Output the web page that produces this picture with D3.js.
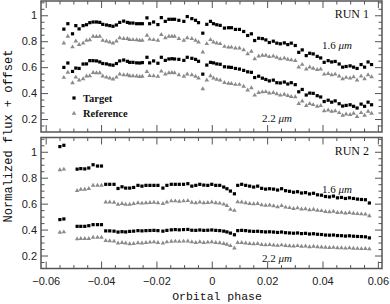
<!DOCTYPE html>
<html><head><meta charset="utf-8">
<script src="https://cdn.jsdelivr.net/npm/d3@7"></script>
<style>body{margin:0;background:#fff}svg{display:block}</style>
</head><body><svg id="c" width="390" height="304"></svg>
<script>
// ---------- DATA ----------
const xTickValues = [-0.06, -0.04, -0.02, 0, 0.02, 0.04, 0.06];
const yTickValues = [0.2, 0.4, 0.6, 0.8, 1];
const runLabels = ["RUN 1", "RUN 2"];
const legendLabels = ["Target", "Reference"];
const bandLabels = ["1.6", "2.2"];
const xTitle = "Orbital phase";
const yTitle = "Normalized flux + offset";

// RUN 1 phases
const phaseRun1 = [-0.05344,-0.05200,-0.05031,-0.04912,-0.04793,-0.04649,-0.04526,-0.04407,-0.04288,-0.04166,
-0.04047,-0.03939,-0.03805,-0.03686,-0.03568,-0.03445,-0.03326,-0.03182,-0.03049,-0.02966,
-0.02847,-0.02714,-0.02605,-0.02508,-0.02342,-0.02245,-0.02101,-0.01946,-0.01823,-0.01679,
-0.01550,-0.01441,-0.01344,-0.01189,-0.01009,-0.00886,-0.00721,-0.00587,-0.00479,-0.00324,
-0.00180,-0.00047,0.00061,0.00180,0.00303,0.00458,0.00602,0.00710,0.00854,0.00999,
0.01153,0.01297,0.01431,0.01550,0.01694,
0.01827,0.01953,0.02079,0.02223,0.02350,0.02476,0.02620,0.02746,0.02872,0.03016,
0.03142,0.03268,0.03413,0.03539,0.03665,0.03809,0.03935,0.04061,0.04205,0.04332,
0.04458,0.04602,0.04728,0.04854,0.04998,0.05124,0.05250,0.05395,0.05521,0.05647,0.05773];
const run1Target16 = [0.893,0.935,0.857,0.920,0.895,0.920,0.927,0.943,0.948,0.948,
0.945,0.930,0.925,0.920,0.915,0.925,0.945,0.955,0.945,0.940,
0.940,0.935,0.935,0.935,0.980,0.935,0.948,0.928,0.982,0.953,
0.969,0.969,0.969,0.961,0.953,0.990,0.974,0.961,0.943,0.862,
0.930,0.953,0.935,0.927,0.922,0.901,0.904,0.904,0.891,0.891,
0.875,0.844,0.857,0.805,0.823,
0.820,0.810,0.790,0.800,0.785,0.780,0.787,0.774,0.785,0.767,
0.714,0.733,0.689,0.707,0.702,0.683,0.671,0.637,0.650,0.640,
0.644,0.624,0.600,0.605,0.610,0.600,0.590,0.620,0.600,0.640,0.620];
const run1Ref16 = [0.785,0.837,0.755,0.800,0.774,0.785,0.806,0.810,0.837,0.835,
0.837,0.806,0.800,0.793,0.785,0.800,0.826,0.820,0.820,0.811,
0.811,0.810,0.806,0.806,0.845,0.815,0.811,0.806,0.850,0.826,
0.837,0.837,0.837,0.819,0.806,0.826,0.819,0.806,0.793,0.715,
0.780,0.811,0.793,0.785,0.780,0.759,0.753,0.753,0.746,0.746,
0.733,0.702,0.722,0.663,0.684,
0.690,0.690,0.680,0.685,0.675,0.663,0.670,0.660,0.655,0.650,
0.600,0.620,0.585,0.600,0.590,0.580,0.585,0.545,0.550,0.540,
0.545,0.530,0.510,0.520,0.515,0.525,0.500,0.530,0.510,0.540,0.525];
const run1Target22 = [0.598,0.632,0.567,0.593,0.590,0.624,0.625,0.650,0.650,0.648,
0.640,0.628,0.625,0.618,0.615,0.628,0.648,0.655,0.645,0.637,
0.637,0.633,0.632,0.635,0.676,0.633,0.648,0.630,0.676,0.652,
0.663,0.665,0.663,0.660,0.652,0.676,0.668,0.660,0.645,0.546,
0.616,0.637,0.633,0.625,0.622,0.603,0.600,0.598,0.590,0.585,
0.575,0.564,0.560,0.520,0.530,
0.515,0.505,0.494,0.500,0.480,0.478,0.485,0.470,0.480,0.465,
0.410,0.428,0.385,0.400,0.398,0.380,0.370,0.335,0.345,0.330,
0.340,0.318,0.300,0.305,0.310,0.298,0.285,0.315,0.298,0.330,0.310];
const run1Ref22 = [0.520,0.560,0.478,0.522,0.500,0.510,0.530,0.533,0.558,0.555,
0.556,0.530,0.522,0.515,0.508,0.522,0.546,0.540,0.540,0.533,
0.532,0.530,0.527,0.528,0.565,0.535,0.532,0.528,0.568,0.546,
0.556,0.557,0.556,0.540,0.528,0.546,0.540,0.528,0.515,0.432,
0.500,0.532,0.515,0.506,0.500,0.480,0.474,0.473,0.466,0.466,
0.452,0.422,0.440,0.383,0.403,
0.408,0.410,0.400,0.404,0.393,0.383,0.390,0.380,0.373,0.370,
0.318,0.338,0.303,0.318,0.310,0.298,0.303,0.263,0.268,0.258,
0.263,0.248,0.228,0.238,0.233,0.243,0.218,0.248,0.228,0.258,0.243];

// RUN 2 phases
const phaseRun2 = [-0.05488,-0.05344,
-0.04865,-0.04732,-0.04588,-0.04444,-0.04288,-0.04130,-0.03986,
-0.03831,-0.03686,-0.03532,-0.03387,-0.03243,-0.03110,-0.02966,-0.02822,-0.02667,-0.02523,
-0.02378,-0.02234,-0.02090,-0.01946,-0.01766,-0.01622,-0.01463,-0.01319,-0.01175,-0.01020,
-0.00865,-0.00721,-0.00577,-0.00432,-0.00288,-0.00144,0.00000,0.00144,0.00288,0.00432,
0.00548,0.00674,0.00818,0.00937,0.01081,0.01225,0.01369,0.01514,0.01658,0.01802,
0.01946,0.02090,0.02234,0.02378,0.02523,0.02667,0.02811,0.02955,0.03099,0.03243,
0.03387,0.03532,0.03676,0.03820,0.03964,0.04108,0.04252,0.04396,0.04541,0.04685,
0.04829,0.04973,0.05117,0.05261,0.05405,0.05550,0.05694];
const run2Target16 = [1.040,1.050,
0.866,0.870,0.868,0.875,0.900,0.890,0.890,
0.749,0.749,0.749,0.717,0.730,0.720,0.720,0.725,0.741,0.735,
0.741,0.741,0.741,0.741,0.720,0.741,0.749,0.749,0.749,0.749,
0.754,0.735,0.741,0.749,0.743,0.741,0.749,0.741,0.741,0.728,
0.715,0.697,0.676,0.741,0.749,0.741,0.735,0.728,0.735,0.718,
0.712,0.715,0.712,0.705,0.715,0.700,0.695,0.688,0.692,0.682,
0.685,0.675,0.680,0.668,0.665,0.655,0.652,0.658,0.645,0.648,
0.640,0.645,0.640,0.635,0.632,0.630,0.605];
const run2Ref16 = [0.860,0.865,
0.700,0.710,0.710,0.715,0.740,0.740,0.740,
0.612,0.612,0.610,0.594,0.600,0.594,0.594,0.600,0.606,0.603,
0.606,0.608,0.610,0.606,0.600,0.612,0.620,0.620,0.618,0.620,
0.622,0.610,0.605,0.612,0.606,0.608,0.612,0.606,0.603,0.595,
0.585,0.555,0.547,0.614,0.612,0.606,0.600,0.598,0.600,0.590,
0.586,0.588,0.582,0.575,0.585,0.572,0.568,0.562,0.566,0.558,
0.560,0.552,0.556,0.548,0.545,0.538,0.536,0.540,0.530,0.532,
0.526,0.530,0.525,0.522,0.520,0.518,0.505];
const run2Target22 = [0.477,0.482,
0.425,0.425,0.425,0.430,0.438,0.438,0.438,
0.390,0.390,0.388,0.381,0.384,0.382,0.386,0.388,0.392,0.390,
0.392,0.393,0.394,0.392,0.388,0.394,0.398,0.400,0.398,0.400,
0.401,0.395,0.394,0.397,0.394,0.395,0.397,0.394,0.392,0.388,
0.382,0.373,0.360,0.392,0.394,0.392,0.388,0.386,0.387,0.384,
0.382,0.383,0.381,0.378,0.381,0.376,0.374,0.372,0.374,0.369,
0.371,0.366,0.368,0.364,0.362,0.358,0.357,0.358,0.354,0.353,
0.350,0.352,0.349,0.347,0.346,0.344,0.336];
const run2Ref22 = [0.379,0.381,
0.327,0.330,0.330,0.330,0.340,0.340,0.340,
0.314,0.312,0.310,0.296,0.300,0.296,0.290,0.292,0.298,0.296,
0.300,0.302,0.304,0.300,0.296,0.304,0.309,0.310,0.308,0.310,
0.311,0.304,0.300,0.305,0.300,0.302,0.305,0.300,0.298,0.292,
0.286,0.275,0.257,0.300,0.300,0.296,0.292,0.290,0.292,0.284,
0.282,0.284,0.280,0.277,0.281,0.276,0.274,0.272,0.275,0.270,
0.272,0.267,0.270,0.266,0.265,0.262,0.260,0.262,0.259,0.258,
0.256,0.258,0.255,0.254,0.252,0.253,0.250];

// ---------- DRAW ----------
const svg = d3.select("#c");
const xLeft = 41, xRight = 382;
const frameColor = "#555";
const panels = [
  {top: 1, bottom: 132, label: runLabels[0], phase: phaseRun1,
   series: [[run1Target16,"t"],[run1Ref16,"r"],[run1Target22,"t"],[run1Ref22,"r"]],
   bands: [{t: bandLabels[0], x: 322, y: 49}, {t: bandLabels[1], x: 262, y: 122}], legend: true},
  {top: 137.5, bottom: 268.5, label: runLabels[1], phase: phaseRun2,
   series: [[run2Target16,"t"],[run2Ref16,"r"],[run2Target22,"t"],[run2Ref22,"r"]],
   bands: [{t: bandLabels[0], x: 322, y: 193}, {t: bandLabels[1], x: 262, y: 262}], legend: false}
];
const x = d3.scaleLinear().domain([-0.0617, 0.0615]).range([xLeft, xRight]);
const fmt = d3.format("~g");
const xMinor = d3.range(-0.06, 0.0601, 0.005).filter(v => !xTickValues.some(t => Math.abs(t - v) < 1e-9));
const yMinor = d3.range(0.15, 1.11, 0.05).filter(v => !yTickValues.some(t => Math.abs(t - v) < 1e-9));

const tri = d3.symbol().type(d3.symbolTriangle).size(9);

function styleAxis(g) {
  g.select(".domain").remove();
  g.selectAll(".tick line").attr("stroke", frameColor).attr("stroke-width", 1);
  g.selectAll(".tick text").attr("fill", "#222")
    .style("font-family", "'Liberation Sans', Arial, sans-serif").style("font-size", "11px");
}

panels.forEach((p, i) => {
  const y = d3.scaleLinear().domain([0.1, 1.11]).range([p.bottom, p.top]);
  const g = svg.append("g");

  const addAxes = (len, isMajor) => {
    g.append("g").attr("transform", `translate(${xLeft},0)`)
      .call(d3.axisLeft(y).tickValues(isMajor ? yTickValues : yMinor).tickSize(-len).tickPadding(4)
        .tickFormat(isMajor ? fmt : () => "")).call(styleAxis);
    g.append("g").attr("transform", `translate(${xRight},0)`)
      .call(d3.axisRight(y).tickValues(isMajor ? yTickValues : yMinor).tickSize(-len).tickFormat(() => "")).call(styleAxis);
    g.append("g").attr("transform", `translate(0,${p.top})`)
      .call(d3.axisTop(x).tickValues(isMajor ? xTickValues : xMinor).tickSize(-len).tickFormat(() => "")).call(styleAxis);
    g.append("g").attr("transform", `translate(0,${p.bottom})`)
      .call(d3.axisBottom(x).tickValues(isMajor ? xTickValues : xMinor).tickSize(-len).tickPadding(9)
        .tickFormat(isMajor && i === 1 ? fmt : () => "")).call(styleAxis);
  };
  addAxes(7, true);
  addAxes(3.5, false);

  g.append("rect").attr("x", xLeft).attr("y", p.top)
    .attr("width", xRight - xLeft).attr("height", p.bottom - p.top)
    .attr("fill", "none").attr("stroke", frameColor).attr("stroke-width", 1.5);

  p.series.forEach(([vals, kind]) => {
    const data = p.phase.map((ph, k) => [ph, vals[k]]).filter(d => d[1] != null);
    if (kind === "t") {
      g.append("g").selectAll("rect").data(data).join("rect")
        .attr("x", d => x(d[0]) - 1.6).attr("y", d => y(d[1]) - 1.6)
        .attr("width", 3.2).attr("height", 3.2).attr("fill", "#000");
    } else {
      g.append("g").selectAll("path").data(data).join("path")
        .attr("d", tri).attr("transform", d => `translate(${x(d[0])},${y(d[1])})`)
        .attr("fill", "#8a8a8a");
    }
  });

  g.append("text").attr("x", 369).attr("y", p.top + 17).attr("text-anchor", "end")
    .style("font-family", "'Liberation Serif', serif").style("font-size", "12px").attr("fill", "#111")
    .text(p.label);

  p.bands.forEach(b => {
    const t = g.append("text").attr("x", b.x).attr("y", b.y)
      .style("font-family", "'Liberation Serif', serif").style("font-size", "11px").attr("fill", "#111");
    t.append("tspan").text(b.t + " ");
    t.append("tspan").style("font-style", "italic").text("μm");
  });

  if (p.legend) {
    g.append("rect").attr("x", 74 - 1.6).attr("y", 98 - 1.6).attr("width", 3.2).attr("height", 3.2).attr("fill", "#000");
    g.append("path").attr("d", tri).attr("transform", "translate(74,113.5)").attr("fill", "#8a8a8a");
    legendLabels.forEach((l, k) => {
      g.append("text").attr("x", 83).attr("y", 101.5 + k * 15.5)
        .style("font-family", "'Liberation Serif', serif").style("font-size", "10.5px").style("font-weight", "bold")
        .attr("fill", "#111").text(l);
    });
  }
});

svg.append("text").attr("x", 217).attr("y", 300).attr("text-anchor", "middle")
  .style("font-family", "'Liberation Mono', monospace").style("font-size", "11.5px").attr("fill", "#111")
  .text(xTitle);
svg.append("text").attr("transform", "translate(12,136) rotate(-90)").attr("text-anchor", "middle")
  .style("font-family", "'Liberation Mono', monospace").style("font-size", "12px").attr("fill", "#111")
  .text(yTitle);
</script>
</body></html>
